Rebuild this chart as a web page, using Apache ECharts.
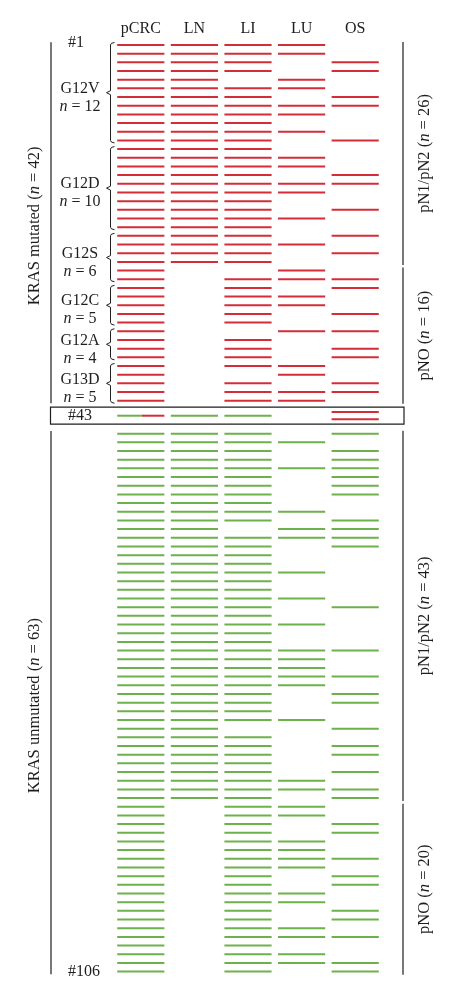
<!DOCTYPE html>
<html><head><meta charset="utf-8">
<script src="https://cdn.jsdelivr.net/npm/echarts@6/dist/echarts.min.js"></script>
<style>html,body{margin:0;padding:0;background:#fff}#chart{width:450px;height:993px}</style>
</head><body><div id="chart"></div>
<script>
// ---- data ----
const columns = ['pCRC', 'LN', 'LI', 'LU', 'OS'];
// one character per patient row #1..#106: r = red line, g = green line, 0 = none,
// m = split green/red line, R = two red lines
const pCRC = 'rrrrrrrrrr rrrrrrrrrr rrrrrrrrrr rrrrrrrrrr rrmggggggg gggggggggg gggggggggg gggggggggg gggggggggg gggggggggg gggggg';
const LN   = 'rrrrrrrrrr rrrrrrrrrr rrrrrr0000 0000000000 00gggggggg gggggggggg gggggggggg gggggggggg gggggg0000 0000000000 000000';
const LI   = 'rrrr0rrrrr rrrrrrrrrr rrrrrr0rrr rrr0rrrr0r rrgggggggg gggg0ggggg gggggggggg ggggggg0gg gggggggggg gggggggggg gggggg';
const LU   = 'rr00rr0rr0 r00rr0rr00 r00r00rr0r r00r000rr0 rr00g00g00 00g0gg000g 00g00g00gg ggg000g000 000gg0gg00 gggg00gg00 gg0gg0';
const OS   = '00rr00rr00 0r000rr00r 00r0r00rr0 0r0r0rr00r r0Rg0ggggg g00gggg000 000g0000g0 0g0gg00g0g g0g0gg00gg 00g0gg00gg 0g00gg';

const mutationNames = ['G12V', 'G12D', 'G12S', 'G12C', 'G12A', 'G13D'];
const mutationCounts = [12, 10, 6, 5, 4, 5];
const mutationFirstRow = [1, 13, 23, 29, 34, 38];
const mutationLastRow = [12, 22, 28, 33, 37, 42];

const krasLabels = ['KRAS mutated', 'KRAS unmutated'];
const krasCounts = [42, 63];
const krasFirstRow = [1, 44];
const krasLastRow = [42, 106];

const nodeLabels = ['pN1/pN2', 'pNO', 'pN1/pN2', 'pNO'];
const nodeCounts = [26, 16, 43, 20];
const nodeFirstRow = [1, 27, 44, 87];
const nodeLastRow = [26, 42, 86, 106];

const rowMarks = [1, 43, 106];
const highlightedRow = 43;

// ---- layout ----
const RED = '#d42d38', GREEN = '#6db14c', INK = '#1e1e1e';
const FONT = '"Liberation Serif", "Times New Roman", serif';
function rowY(r) { return r <= 42 ? r : (r === 43 ? 43.73 : r + 1.8); }

const cells = [];
[pCRC, LN, LI, LU, OS].forEach((s, c) => {
  const t = s.replace(/\s+/g, '');
  for (let i = 0; i < t.length; i++) {
    if (t[i] !== '0') cells.push({ col: c, row: i + 1, code: t[i] });
  }
});

function seg(xa, xb, y, color) {
  return { type: 'line', shape: { x1: xa, y1: y, x2: xb, y2: y }, style: { stroke: color, lineWidth: 2 } };
}
function renderCell(params, api) {
  const cell = cells[params.dataIndex];
  const p = api.coord([api.value(0), api.value(1)]);
  const half = api.size([1, 0])[0] * 0.44;
  const x0 = p[0] - half, x1 = p[0] + half;
  if (cell.code === 'r') return seg(x0, x1, p[1], RED);
  if (cell.code === 'g') return seg(x0, x1, p[1], GREEN);
  if (cell.code === 'm') {
    const xm = x0 + (x1 - x0) * 0.52;
    return { type: 'group', children: [seg(x0, xm, p[1], GREEN), seg(xm, x1, p[1], RED)] };
  }
  if (cell.code === 'R') {
    const ya = api.coord([api.value(0), api.value(1) - 0.42])[1];
    const yb = api.coord([api.value(0), api.value(1) + 0.42])[1];
    return { type: 'group', children: [seg(x0, x1, ya, RED), seg(x0, x1, yb, RED)] };
  }
}

const richBase = {
  a: { fontFamily: FONT, fontSize: 16, fill: INK, lineHeight: 18 },
  i: { fontFamily: FONT, fontSize: 16, fill: INK, fontStyle: 'italic', lineHeight: 18 }
};
const richBig = {
  a: { fontFamily: FONT, fontSize: 16.5, fill: INK },
  i: { fontFamily: FONT, fontSize: 16.5, fill: INK, fontStyle: 'italic' }
};
function txt(x, y, text) {
  return { type: 'text', x: x, y: y, style: { text: text, rich: richBase, fontFamily: FONT, fontSize: 16, fill: INK, align: 'center', verticalAlign: 'middle' } };
}

function renderBracket(params, api) {
  const i = params.dataIndex;
  const top = api.coord([0, api.value(1)])[1] - 2.5;
  const bot = api.coord([0, api.value(2)])[1] + 2.5;
  const mid = (top + bot) / 2;
  const xv = 110.5;
  return {
    type: 'group', children: [
      { type: 'polyline', shape: { points: [[114.5, top], [111.5, top + 0.8], [xv, top + 2.5], [xv, mid - 2], [106.5, mid], [xv, mid + 2], [xv, bot - 2.5], [111.5, bot - 0.8], [114.5, bot]] },
        style: { stroke: INK, fill: null, lineWidth: 1 } },
      txt(80, mid + 5, '{a|' + mutationNames[i] + '}\n{i|n}{a| = ' + mutationCounts[i] + '}')
    ]
  };
}

function renderKras(params, api) {
  const i = params.dataIndex;
  const top = api.coord([0, api.value(1) - 0.3])[1];
  const bot = api.coord([0, api.value(2) + 0.3])[1];
  const r = {
    type: 'text', x: 35, y: (top + bot) / 2 + 3, rotation: Math.PI / 2,
    style: { text: '{a|' + krasLabels[i] + ' (}{i|n}{a| = ' + krasCounts[i] + ')}', rich: richBig, align: 'center', verticalAlign: 'middle' }
  };
  return { type: 'group', children: [
    { type: 'line', shape: { x1: 51, y1: top, x2: 51, y2: bot }, style: { stroke: INK, lineWidth: 1.2 } }, r] };
}

function renderNode(params, api) {
  const i = params.dataIndex;
  const top = api.coord([0, api.value(1) - 0.35])[1];
  const bot = api.coord([0, api.value(2) + 0.35])[1];
  const r = {
    type: 'text', x: 425, y: (top + bot) / 2, rotation: Math.PI / 2,
    style: { text: '{a|' + nodeLabels[i] + ' (}{i|n}{a| = ' + nodeCounts[i] + ')}', rich: richBig, align: 'center', verticalAlign: 'middle' }
  };
  return { type: 'group', children: [
    { type: 'line', shape: { x1: 403, y1: top, x2: 403, y2: bot }, style: { stroke: INK, lineWidth: 1.2 } }, r] };
}

function renderMark(params, api) {
  const row = rowMarks[params.dataIndex];
  const y = api.coord([0, api.value(1)])[1];
  const children = [{ type: 'text', x: 68, y: y + (row === 1 ? -2 : 0), style: { text: '#' + row, fontFamily: FONT, fontSize: 16, fill: INK, align: 'left', verticalAlign: 'middle' } }];
  if (row === highlightedRow) {
    const t = api.coord([0, api.value(1) - 0.98])[1], b = api.coord([0, api.value(1) + 0.98])[1];
    children.push({ type: 'rect', shape: { x: 50.5, y: t, width: 353.5, height: b - t }, style: { stroke: INK, fill: null, lineWidth: 1.2 } });
  }
  return { type: 'group', children: children };
}

const chart = echarts.init(document.getElementById('chart'), null, { renderer: 'canvas' });
chart.setOption({
  animation: false,
  backgroundColor: '#fff',
  grid: { left: 114, right: 68, top: 36.3, bottom: 11, containLabel: false, outerBoundsMode: 'none' },
  xAxis: {
    type: 'category', data: columns, position: 'top',
    axisLine: { show: false }, axisTick: { show: false }, splitLine: { show: false },
    axisLabel: { fontFamily: FONT, fontSize: 16, color: INK, margin: 0 }
  },
  yAxis: { type: 'value', min: 0, max: 109, inverse: true, show: false },
  series: [
    { type: 'custom', name: 'cells', clip: false, silent: true, renderItem: renderCell,
      data: cells.map(c => [c.col, rowY(c.row)]) },
    { type: 'custom', name: 'mutations', clip: false, silent: true, renderItem: renderBracket,
      encode: { x: 0, y: [1, 2] },
      data: mutationNames.map((n, i) => [0, rowY(mutationFirstRow[i]), rowY(mutationLastRow[i])]) },
    { type: 'custom', name: 'kras', clip: false, silent: true, renderItem: renderKras,
      encode: { x: 0, y: [1, 2] },
      data: krasLabels.map((n, i) => [0, rowY(krasFirstRow[i]), rowY(krasLastRow[i])]) },
    { type: 'custom', name: 'nodes', clip: false, silent: true, renderItem: renderNode,
      encode: { x: 0, y: [1, 2] },
      data: nodeLabels.map((n, i) => [0, rowY(nodeFirstRow[i]), rowY(nodeLastRow[i])]) },
    { type: 'custom', name: 'marks', clip: false, silent: true, renderItem: renderMark,
      data: rowMarks.map(r => [0, rowY(r)]) }
  ]
});
</script></body></html>
